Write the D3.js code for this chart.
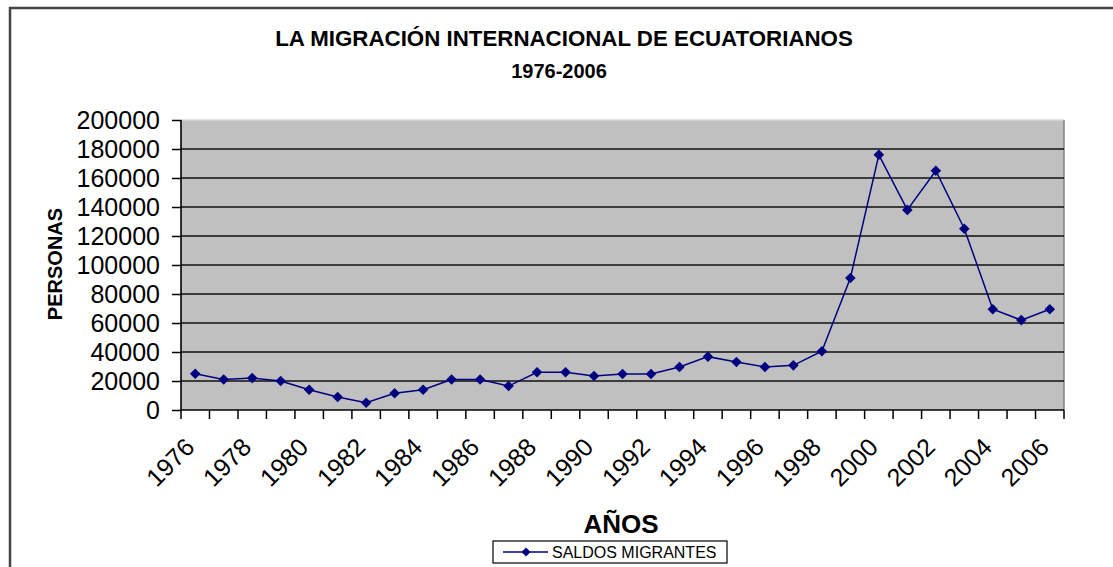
<!DOCTYPE html>
<html>
<head>
<meta charset="utf-8">
<style>
  body { margin: 0; background: #fff; }
  svg text { font-family: "Liberation Sans", Arial, sans-serif; fill: #000; }
  .title { font-weight: bold; font-size: 21px; text-anchor: middle; }
  .ylab text, .xlab text { font-size: 25px; }
  .ylab path, .xlab path { display: none; }
  .ylab line, .xlab line { stroke: #000; stroke-width: 1.5; }
</style>
<script src="https://d3js.org/d3.v7.min.js"></script>
</head>
<body>
<svg width="1113" height="567"></svg>
<script>
// años y saldos migrantes (personas)
var years = d3.range(1976, 2007);
var saldos = [25000, 21000, 22000, 20000, 14000, 9000, 5000, 11500, 14000, 21000,
              21000, 16500, 26000, 26000, 23500, 24800, 24800, 29700, 36800, 33100,
              29700, 30800, 40500, 91000, 176000, 138000, 165000, 125000, 69500, 62000, 69500];
var yTicks = [0, 20000, 40000, 60000, 80000, 100000, 120000, 140000, 160000, 180000, 200000];
var xLabels = years.filter(function(y) { return (y - 1976) % 2 === 0; });

var svg = d3.select("svg");
var pLeft = 181, pRight = 1064, pTop = 120, pBottom = 410;

var x = d3.scaleBand().domain(years).range([pLeft, pRight]);
var y = d3.scaleLinear().domain([0, 200000]).range([pBottom, pTop]);

// marco del gráfico
svg.append("path")
  .attr("d", "M10,567 L10,8 L1113,8")
  .attr("fill", "none").attr("stroke", "#444").attr("stroke-width", 2.5);

// fondo del área de trazado
svg.append("rect")
  .attr("x", pLeft).attr("y", pTop)
  .attr("width", pRight - pLeft).attr("height", pBottom - pTop)
  .attr("fill", "#c0c0c0");
svg.append("line").attr("x1", pLeft).attr("x2", pRight).attr("y1", pTop).attr("y2", pTop)
  .attr("stroke", "#d8d8d8").attr("stroke-width", 1.5);
svg.append("line").attr("x1", pRight).attr("x2", pRight).attr("y1", pTop).attr("y2", pBottom)
  .attr("stroke", "#808080").attr("stroke-width", 1.5);

// líneas de división
svg.append("g").selectAll("line")
  .data(yTicks.filter(function(d) { return d > 0 && d < 200000; }))
  .enter().append("line")
  .attr("x1", pLeft).attr("x2", pRight)
  .attr("y1", function(d) { return y(d); }).attr("y2", function(d) { return y(d); })
  .attr("stroke", "#111").attr("stroke-width", 1.6);

// eje y
svg.append("g").attr("class", "ylab")
  .attr("transform", "translate(" + pLeft + ",0)")
  .call(d3.axisLeft(y).tickValues(yTicks).tickSize(9).tickPadding(12).tickFormat(d3.format("d")));
svg.append("line").attr("x1", pLeft).attr("x2", pLeft).attr("y1", pTop).attr("y2", pBottom)
  .attr("stroke", "#000").attr("stroke-width", 1.6);

// eje x: marcas entre categorías
svg.append("g").selectAll("line")
  .data(d3.range(years.length + 1))
  .enter().append("line")
  .attr("x1", function(i) { return pLeft + i * x.bandwidth(); })
  .attr("x2", function(i) { return pLeft + i * x.bandwidth(); })
  .attr("y1", pBottom).attr("y2", pBottom + 9)
  .attr("stroke", "#000").attr("stroke-width", 1.5);
svg.append("line").attr("x1", pLeft).attr("x2", pRight).attr("y1", pBottom).attr("y2", pBottom)
  .attr("stroke", "#000").attr("stroke-width", 1.6);

svg.append("g").attr("class", "xlab").selectAll("text")
  .data(xLabels)
  .enter().append("text")
  .attr("transform", function(d) {
    return "translate(" + (x(d) + x.bandwidth() / 2 - 12) + ",436) rotate(-45)";
  })
  .attr("text-anchor", "end")
  .attr("dy", "0.72em")
  .text(function(d) { return d; });

// serie
var pts = years.map(function(yr, i) { return [x(yr) + x.bandwidth() / 2, y(saldos[i])]; });
svg.append("path")
  .attr("d", d3.line()(pts))
  .attr("fill", "none").attr("stroke", "#000080").attr("stroke-width", 1.5);
svg.append("g").selectAll("path")
  .data(pts)
  .enter().append("path")
  .attr("d", d3.symbol(d3.symbolSquare, 56))
  .attr("transform", function(p) { return "translate(" + p[0] + "," + p[1] + ") rotate(45)"; })
  .attr("fill", "#000080");

// títulos
svg.append("text").attr("class", "title").attr("x", 564).attr("y", 46)
  .style("font-size", "22.3px")
  .text("LA MIGRACIÓN INTERNACIONAL DE ECUATORIANOS");
svg.append("text").attr("class", "title").attr("x", 559).attr("y", 78)
  .style("font-size", "20px")
  .text("1976-2006");
svg.append("text").attr("class", "title")
  .attr("transform", "translate(62,264) rotate(-90)")
  .style("font-size", "20px")
  .text("PERSONAS");
svg.append("text").attr("class", "title").attr("x", 621).attr("y", 533)
  .style("font-size", "26px")
  .text("AÑOS");

// leyenda
var lg = svg.append("g").attr("transform", "translate(493,541)");
lg.append("rect").attr("width", 234).attr("height", 22)
  .attr("fill", "#fff").attr("stroke", "#000").attr("stroke-width", 1.2);
lg.append("line").attr("x1", 10).attr("x2", 55).attr("y1", 11).attr("y2", 11)
  .attr("stroke", "#000080").attr("stroke-width", 1.5);
lg.append("path")
  .attr("d", d3.symbol(d3.symbolSquare, 40))
  .attr("transform", "translate(33,11) rotate(45)")
  .attr("fill", "#000080");
lg.append("text").attr("x", 59).attr("y", 17).style("font-size", "16px")
  .text("SALDOS MIGRANTES");
</script>
</body>
</html>
